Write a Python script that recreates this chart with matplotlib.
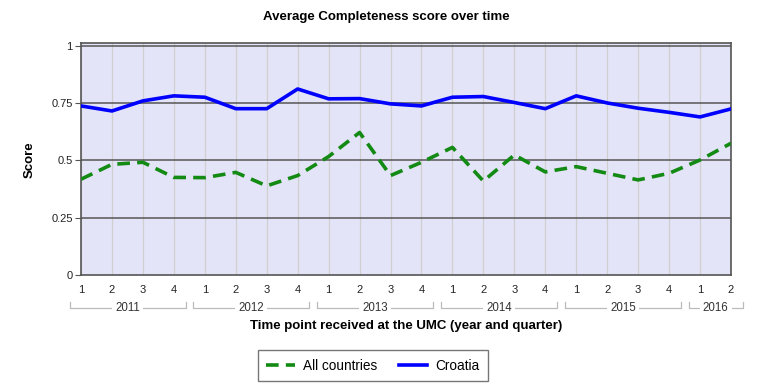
import matplotlib
matplotlib.use("Agg")
import matplotlib.pyplot as plt
import matplotlib.transforms as mtransforms

plt.rcParams['font.family'] = ['Liberation Sans', 'DejaVu Sans']

years = ['2011', '2012', '2013', '2014', '2015', '2016']
quarters_per_year = [4, 4, 4, 4, 4, 2]
quarter_labels = ['1', '2', '3', '4'] * 5 + ['1', '2']

all_countries = [0.418, 0.483, 0.492, 0.426, 0.425, 0.448, 0.389, 0.434,
                 0.517, 0.622, 0.434, 0.492, 0.557, 0.410, 0.524, 0.450,
                 0.473, 0.444, 0.415, 0.444, 0.502, 0.575]
croatia = [0.738, 0.716, 0.760, 0.782, 0.776, 0.726, 0.726, 0.812,
           0.769, 0.770, 0.747, 0.738, 0.776, 0.779, 0.753, 0.726,
           0.782, 0.751, 0.728, 0.710, 0.690, 0.725]
y_ticks = [0, 0.25, 0.5, 0.75, 1]
y_tick_labels = ['0', '0.25', '0.5', '0.75', '1']

W, H = 759, 392
fig = plt.figure(figsize=(W / 100, H / 100), dpi=100)
ax = fig.add_axes([81 / W, 1 - 275 / H, 650 / W, (275 - 42.7) / H])
ax.set_facecolor('#e4e4f8')

x = list(range(len(quarter_labels)))
ax.plot(x, all_countries, color='#138a13', lw=2.6, ls=(0, (3.5, 2)), label='All countries', zorder=3)
ax.plot(x, croatia, color='#0000ff', lw=2.6, label='Croatia', zorder=3)

ax.set_xlim(0, len(x) - 1)
ax.set_ylim(0, 1.014)
ax.set_xticks(x)
ax.set_xticklabels(quarter_labels, fontsize=8, color='#222222')
ax.set_yticks(y_ticks)
ax.set_yticklabels(y_tick_labels, fontsize=8, color='#222222')
ax.tick_params(axis='x', length=0, pad=7)
ax.tick_params(axis='y', length=4, color='#555555', pad=2)

for xv in x:
    ax.axvline(xv, color='#cfcfcf', lw=0.9, zorder=1)
for yv in y_ticks[1:]:
    ax.axhline(yv, color='#555555', lw=1.1, zorder=2)

for sp in ax.spines.values():
    sp.set_color('#555555')
    sp.set_linewidth(1.2)

# Year brackets
trans = mtransforms.blended_transform_factory(ax.transData, ax.transAxes)
y_line = (275 - 308) / (275 - 42.7)
y_tick_top = (275 - 302) / (275 - 42.7)
start = 0
for yr, n in zip(years, quarters_per_year):
    x0 = start - 0.37
    x1 = start + n - 1 + 0.38
    ax.plot([x0, x0, x1, x1], [y_tick_top, y_line, y_line, y_tick_top],
            transform=trans, color='#bbbbbb', lw=0.9, clip_on=False)
    xm = (x0 + x1) / 2
    ax.text(xm, y_line, yr, transform=trans, ha='center', va='center',
            fontsize=8.3, color='#333333',
            bbox=dict(facecolor='white', edgecolor='none', pad=2.2))
    start += n

fig.text(386 / W, 1 - 17 / H, 'Average Completeness score over time',
         ha='center', va='center', fontsize=9.5, fontweight='bold')
fig.text(406 / W, 1 - 326 / H, 'Time point received at the UMC (year and quarter)',
         ha='center', va='center', fontsize=9.5, fontweight='bold')
fig.text(30 / W, 1 - 160 / H, 'Score', ha='center', va='center', rotation=90,
         fontsize=9.5, fontweight='bold')

leg = fig.legend(loc='center', bbox_to_anchor=(373 / W, 1 - 365.5 / H), ncol=2,
                 fontsize=9.8, frameon=True, fancybox=False, handlelength=2.1,
                 handletextpad=0.6, columnspacing=1.6, borderpad=0.6,
                 borderaxespad=0.0)
leg.get_frame().set_edgecolor('#555555')
leg.get_frame().set_linewidth(1.0)
leg._legend_box.sep = 0

fig.savefig('out.png', dpi=100)
